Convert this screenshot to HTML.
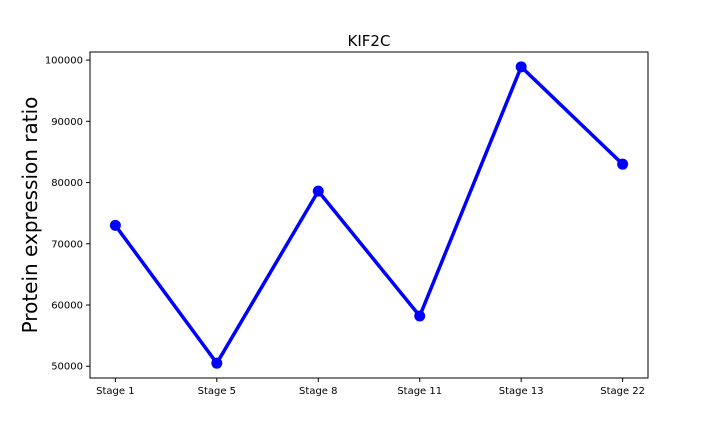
<!DOCTYPE html>
<html><head><meta charset="utf-8"><style>
body{margin:0;background:#fff;}
svg text{font-family:"DejaVu Sans","Liberation Sans",sans-serif;}
</style></head><body>
<svg id="chart" width="720" height="432" xmlns="http://www.w3.org/2000/svg"></svg>
<script>
const categories=["Stage 1","Stage 5","Stage 8","Stage 11","Stage 13","Stage 22"];
const values=[73000,50500,78600,58200,98900,83000];
const yTicks=[50000,60000,70000,80000,90000,100000];
const chartTitle="KIF2C";
const yLabel="Protein expression ratio";

const svg=document.getElementById('chart');
const NS="http://www.w3.org/2000/svg";
const L=90,R=648,T=52,B=378;
const mn=Math.min(...values),mx=Math.max(...values),pad=(mx-mn)*0.05;
const y0=mn-pad,y1=mx+pad;
const n=categories.length;
const xs=i=>L+(R-L)*((i+0.25)/(n-1+0.5));
const ys=v=>B-(B-T)*(v-y0)/(y1-y0);
function mk(tag,attrs,parent){const e=document.createElementNS(NS,tag);for(const k in attrs)e.setAttribute(k,attrs[k]);(parent||svg).appendChild(e);return e;}

const frame=mk('rect',{x:L,y:T,width:R-L,height:B-T,fill:'none',stroke:'#000','stroke-width':1});



categories.forEach((c,i)=>{
  const x=xs(i);
  const t=mk('line',{x1:x,x2:x,y1:B,y2:B+4,stroke:'#000'});
  
  
  const tx=mk('text',{x:x,y:B+16,'font-size':10,'text-anchor':'middle'});
  tx.textContent=c;
  
  
});
yTicks.forEach(v=>{
  const y=ys(v);
  const t=mk('line',{x1:L-4,x2:L,y1:y,y2:y,stroke:'#000'});
  
  
  const tx=mk('text',{x:L-7,y:y+3.5,'font-size':10,'text-anchor':'end'});
  tx.textContent=v;
  
  
});

const line=mk('polyline',{points:values.map((v,i)=>xs(i)+','+ys(v)).join(' '),fill:'none',stroke:'#0000ff','stroke-width':3.5,'stroke-linejoin':'round'});


values.forEach((v,i)=>{
  const c=mk('circle',{cx:xs(i),cy:ys(v),r:5.5,fill:'#0000ff'});
  
  
});

const title=mk('text',{x:(L+R)/2,y:46,'font-size':15,'text-anchor':'middle'});
title.textContent=chartTitle;


const yl=mk('text',{x:0,y:0,'font-size':20,'text-anchor':'middle',transform:`translate(37,${(T+B)/2}) rotate(-90)`});
yl.textContent=yLabel;


</script>
</body></html>
